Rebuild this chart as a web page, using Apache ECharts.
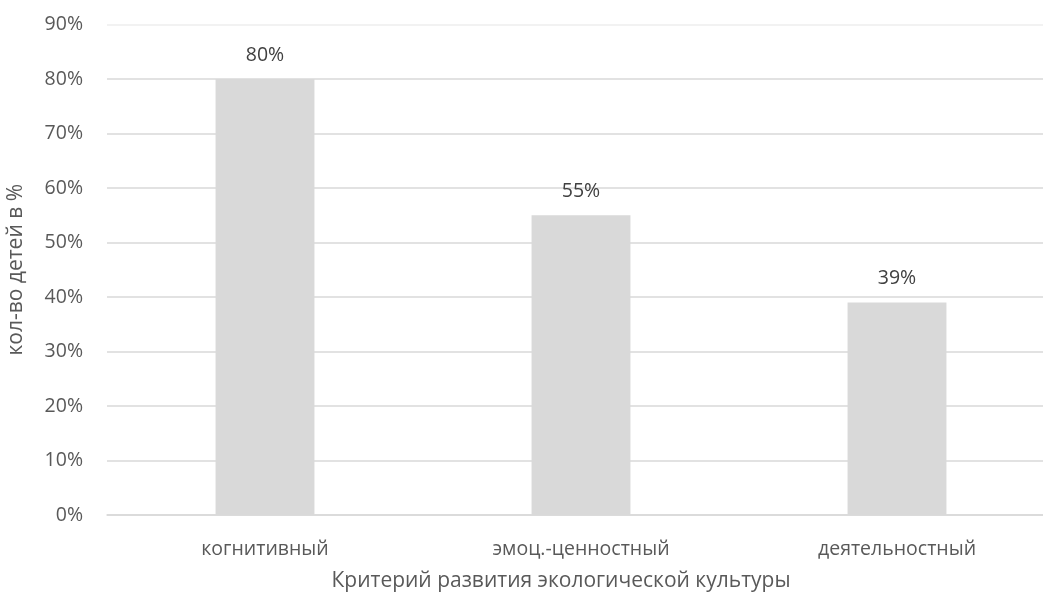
<!DOCTYPE html>
<html><head><meta charset="utf-8">
<script src="https://cdn.jsdelivr.net/npm/echarts@6/dist/echarts.min.js"></script>
<style>html,body{margin:0;padding:0;background:#fff}#c{width:1043px;height:597px}</style>
</head><body><div id="c"></div>
<script>
const categories = ['когнитивный', 'эмоц.-ценностный', 'деятельностный'];
const values = [80, 55, 39];
const xTitle = 'Критерий развития экологической культуры';
const yTitle = 'кол-во детей в %';

const chart = echarts.init(document.getElementById('c'));
const font = '"Open Sans", sans-serif';
const grid = ['#d9d9d9','#d9d9d9','#d9d9d9','#d9d9d9','#d9d9d9','#d9d9d9','#d9d9d9','#d9d9d9','#d9d9d9','#eeeeee'];
chart.setOption({
  animation: false,
  grid: { left: 107, width: 948, top: 24.5, height: 490.5, containLabel: false, outerBoundsMode: 'none' },
  xAxis: {
    type: 'category', data: categories,
    axisLine: { show: true, lineStyle: { color: '#d9d9d9', width: 1.5 } },
    axisTick: { show: false },
    axisLabel: { color: '#595959', fontSize: 19.5, fontFamily: font, margin: 24 },
    name: xTitle, nameLocation: 'middle', nameGap: 56,
    nameTextStyle: { color: '#595959', fontSize: 21, fontFamily: font, padding: [0, 40, 0, 0] }
  },
  yAxis: {
    type: 'value', min: 0, max: 90, interval: 10,
    axisLabel: { formatter: '{value}%', color: '#595959', fontSize: 19.5, fontFamily: font, margin: 24 },
    splitLine: { lineStyle: { color: grid, width: 1.5 } },
    axisLine: { show: false }, axisTick: { show: false },
    name: yTitle, nameLocation: 'middle', nameGap: 80, nameRotate: 90,
    nameTextStyle: { color: '#595959', fontSize: 21, fontFamily: font }
  },
  series: [{
    type: 'bar', data: values, barWidth: '31.3%',
    itemStyle: { color: '#d9d9d9' },
    label: { show: true, position: 'top', distance: 14, formatter: '{c}%', color: '#404040', fontSize: 19.5, fontFamily: font }
  }]
});
</script></body></html>
